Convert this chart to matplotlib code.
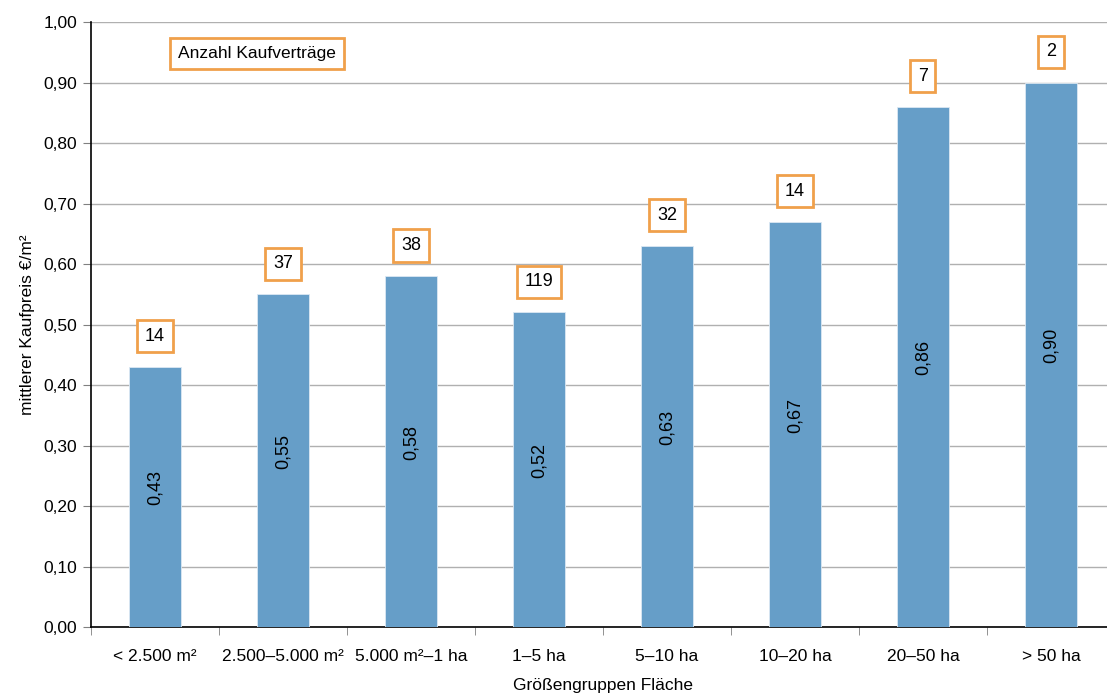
import numpy as np
import matplotlib
matplotlib.use("Agg")
import matplotlib.pyplot as plt
from matplotlib.ticker import MultipleLocator, FuncFormatter

# Mittlere Kaufpreise nach Größengruppen
groups = ["< 2.500 m²", "2.500–5.000 m²", "5.000 m²–1 ha", "1–5 ha",
          "5–10 ha", "10–20 ha", "20–50 ha", "> 50 ha"]
prices = [0.43, 0.55, 0.58, 0.52, 0.63, 0.67, 0.86, 0.90]
contracts = [14, 37, 38, 119, 32, 14, 7, 2]

BAR_COLOR = "#669ec8"
BOX_COLOR = "#f0a04b"

plt.rcParams["font.family"] = ["Liberation Sans", "DejaVu Sans"]

fig = plt.figure(figsize=(11.07, 6.95), dpi=100)
ax = fig.add_axes([0.0822, 0.0978, 0.925, 0.8705])

x = np.arange(len(groups))
bars = ax.bar(x, prices, width=0.40, color=BAR_COLOR, edgecolor="#dbe8f3",
              linewidth=0.6, zorder=3)

# Werte in den Balken, gedreht
for xi, v in zip(x, prices):
    ax.text(xi, v / 2 + 0.015, f"{v:.2f}".replace(".", ","), rotation=90,
            ha="center", va="center", fontsize=13, color="black", zorder=4)

# Anzahl der Kaufverträge über den Balken
box = dict(boxstyle="square,pad=0.42", facecolor="white", edgecolor=BOX_COLOR, linewidth=2)
for xi, v, n in zip(x, prices, contracts):
    ax.annotate(str(n), xy=(xi, v), xytext=(0, 22), textcoords="offset points",
                ha="center", va="center", fontsize=13, bbox=box, zorder=5)

ax.text(0.085, 0.948, "Anzahl Kaufverträge", transform=ax.transAxes,
        ha="left", va="center", fontsize=12.5,
        bbox=dict(boxstyle="square,pad=0.45", facecolor="white",
                  edgecolor=BOX_COLOR, linewidth=2))

ax.set_xlim(-0.5, len(groups) - 0.5)
ax.set_ylim(0, 1.0)
ax.yaxis.set_major_locator(MultipleLocator(0.1))
ax.yaxis.set_major_formatter(FuncFormatter(lambda v, p: f"{v:.2f}".replace(".", ",")))
ax.grid(axis="y", color="#b0b0b0", linewidth=1.0, zorder=0)

ax.set_xticks(x)
ax.set_xticklabels(groups, fontsize=12.5)
ax.set_xticks(np.arange(len(groups) + 1) - 0.5, minor=True)
ax.tick_params(axis="x", which="major", length=0, pad=16)
ax.tick_params(axis="x", which="minor", length=6, color="#808080")
ax.tick_params(axis="y", length=6, color="#808080", labelsize=12.5, pad=4)

for side in ["top", "right"]:
    ax.spines[side].set_visible(False)
ax.spines["left"].set_color("black")
ax.spines["bottom"].set_color("black")
ax.spines["left"].set_linewidth(1.2)
ax.spines["bottom"].set_linewidth(1.2)

ax.set_ylabel("mittlerer Kaufpreis €/m²", fontsize=12.5, labelpad=6)
ax.set_xlabel("Größengruppen Fläche", fontsize=12.5, labelpad=10)

fig.savefig("out.png", dpi=100)
